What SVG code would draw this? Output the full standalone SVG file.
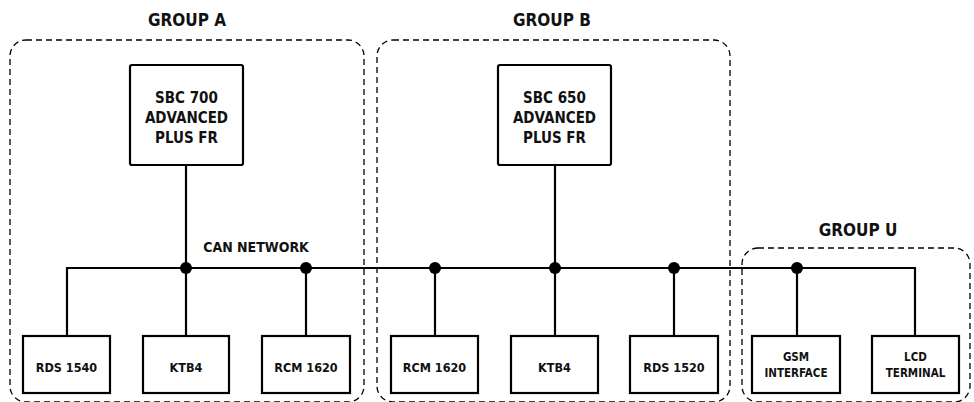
<svg xmlns="http://www.w3.org/2000/svg" width="974" height="402" viewBox="0 0 974 402">
<style>
.grp{fill:none;stroke:#000;stroke-width:1.3;stroke-dasharray:6 4}
.box{fill:#fff;stroke:#000;stroke-width:2.2}
.ln{fill:none;stroke:#000;stroke-width:2.2}
.dot{fill:#000}
text{font-family:"DejaVu Sans Condensed","Liberation Sans",sans-serif;font-weight:bold;fill:#111;text-anchor:middle}
.t{font-size:15px}
.b{font-size:12.5px}
.c{font-size:14px}
.s{font-size:11.5px}
.g{font-size:17px}
</style>
<rect width="974" height="402" fill="#fff"/>
<g id="groupA"><rect class="grp" x="10" y="40" width="354" height="362" rx="16"/><text class="g" x="187" y="26">GROUP A</text></g>
<g id="groupB"><rect class="grp" x="377" y="40" width="353" height="362" rx="16"/><text class="g" x="552" y="26">GROUP B</text></g>
<g id="groupU"><rect class="grp" x="742" y="248" width="228" height="154" rx="16"/><text class="g" x="858" y="236">GROUP U</text></g>
<g id="connectors">
<polyline class="ln" points="67,336 67,268 915,268 915,336"/>
<line class="ln" x1="186" y1="165" x2="186" y2="336"/>
<line class="ln" x1="306" y1="268" x2="306" y2="336"/>
<line class="ln" x1="435" y1="268" x2="435" y2="336"/>
<line class="ln" x1="555" y1="165" x2="555" y2="336"/>
<line class="ln" x1="674" y1="268" x2="674" y2="336"/>
<line class="ln" x1="797" y1="268" x2="797" y2="336"/>
<circle class="dot" cx="186" cy="268" r="6"/>
<circle class="dot" cx="306" cy="268" r="6"/>
<circle class="dot" cx="435" cy="268" r="6"/>
<circle class="dot" cx="555" cy="268" r="6"/>
<circle class="dot" cx="674" cy="268" r="6"/>
<circle class="dot" cx="797" cy="268" r="6"/>
<text class="c" x="256" y="252">CAN NETWORK</text>
</g>
<g id="sbc700"><rect class="box" x="130" y="65" width="113" height="100" rx="2"/><text class="t" x="186.5" y="103">SBC 700</text><text class="t" x="186.5" y="123">ADVANCED</text><text class="t" x="186.5" y="143">PLUS FR</text></g>
<g id="sbc650"><rect class="box" x="498" y="65" width="113" height="100" rx="2"/><text class="t" x="554.5" y="103">SBC 650</text><text class="t" x="554.5" y="123">ADVANCED</text><text class="t" x="554.5" y="143">PLUS FR</text></g>
<g id="rds1540"><rect class="box" x="23" y="336" width="87" height="57"/><text class="b" x="66.5" y="372">RDS 1540</text></g>
<g id="ktb4a"><rect class="box" x="143" y="336" width="86" height="57"/><text class="b" x="186" y="372">KTB4</text></g>
<g id="rcm1620a"><rect class="box" x="262" y="336" width="88" height="57"/><text class="b" x="306" y="372">RCM 1620</text></g>
<g id="rcm1620b"><rect class="box" x="391" y="336" width="87" height="57"/><text class="b" x="434.5" y="372">RCM 1620</text></g>
<g id="ktb4b"><rect class="box" x="511" y="336" width="87" height="57"/><text class="b" x="554.5" y="372">KTB4</text></g>
<g id="rds1520"><rect class="box" x="630" y="336" width="88" height="57"/><text class="b" x="674" y="372">RDS 1520</text></g>
<g id="gsm"><rect class="box" x="752" y="336" width="88" height="57"/><text class="s" x="796" y="361">GSM</text><text class="s" x="796" y="377">INTERFACE</text></g>
<g id="lcd"><rect class="box" x="872" y="336" width="87" height="57"/><text class="s" x="915.5" y="361">LCD</text><text class="s" x="915.5" y="377">TERMINAL</text></g>
</svg>
